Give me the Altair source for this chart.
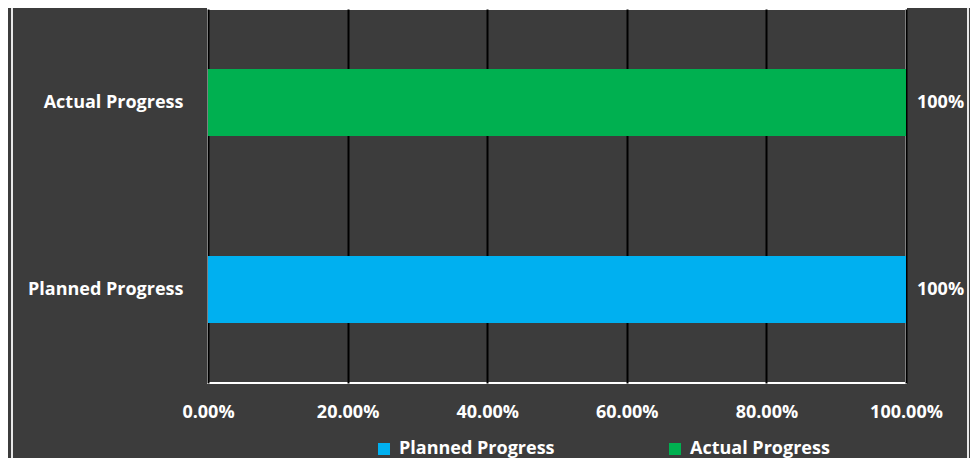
import altair as alt
import pandas as pd

categories = ["Planned Progress", "Actual Progress"]
values = [1.0, 1.0]
colors = ["#00B0F0", "#00B050"]
order = ["Actual Progress", "Planned Progress"]
x_ticks = [0, 0.2, 0.4, 0.6, 0.8, 1.0]

df = pd.DataFrame({"category": categories, "value": values})

FONT = "Open Sans"
BG = "#3c3c3c"
FS = 18

base = alt.Chart(df)

y_enc = alt.Y(
    "category:N",
    sort=order,
    scale=alt.Scale(paddingInner=0.642, paddingOuter=0.321),
    axis=alt.Axis(
        title=None, domain=False, ticks=False, labelPadding=25,
        labelColor="white", labelFont=FONT, labelFontSize=FS, labelFontWeight="bold",
    ),
)

bars = base.mark_bar().encode(
    x=alt.X(
        "value:Q",
        scale=alt.Scale(domain=[0, 1], nice=False),
        axis=alt.Axis(
            title=None, format=".2%", values=x_ticks,
            domain=False, ticks=False, labelPadding=20,
            labelColor="white", labelFont=FONT, labelFontSize=FS, labelFontWeight="bold",
            grid=True, gridColor="black", gridWidth=2, gridOpacity=1,
            labelFlush=False,
        ),
    ),
    y=y_enc,
    color=alt.Color(
        "category:N",
        scale=alt.Scale(domain=categories, range=colors),
        legend=alt.Legend(
            title=None, orient="none", direction="horizontal", columns=2,
            legendX=167, legendY=431, padding=0,
            symbolType="square", symbolSize=144, symbolStrokeWidth=0,
            labelColor="white", labelFont=FONT, labelFontSize=FS, labelFontWeight="bold",
            labelOffset=6, columnPadding=111,
        ),
    ),
)

labels = base.mark_text(
    align="left", baseline="middle", dx=11, color="white",
    font=FONT, fontSize=FS, fontWeight="bold",
).encode(
    x="value:Q",
    y=alt.Y("category:N", sort=order),
    text=alt.Text("value:Q", format=".0%"),
)

left_edge = alt.Chart(pd.DataFrame({"a": [0]})).mark_rule(color="#e8e8e8", strokeWidth=2).encode(
    x=alt.value(-196), y=alt.value(-20), y2=alt.value(470)
)
right_edge = alt.Chart(pd.DataFrame({"a": [0]})).mark_rule(color="#e8e8e8", strokeWidth=2).encode(
    x=alt.value(760), y=alt.value(-20), y2=alt.value(470)
)

chart = alt.layer(bars, labels, left_edge, right_edge).properties(
    width=698,
    height=374,
    background=BG,
    autosize=alt.AutoSizeParams(type="none"),
    padding={"left": 200, "top": 1, "right": 64, "bottom": 75},
).configure_view(
    stroke="white", strokeWidth=2,
)

chart.save("out.html", embed_options={"renderer": "svg", "actions": False})
